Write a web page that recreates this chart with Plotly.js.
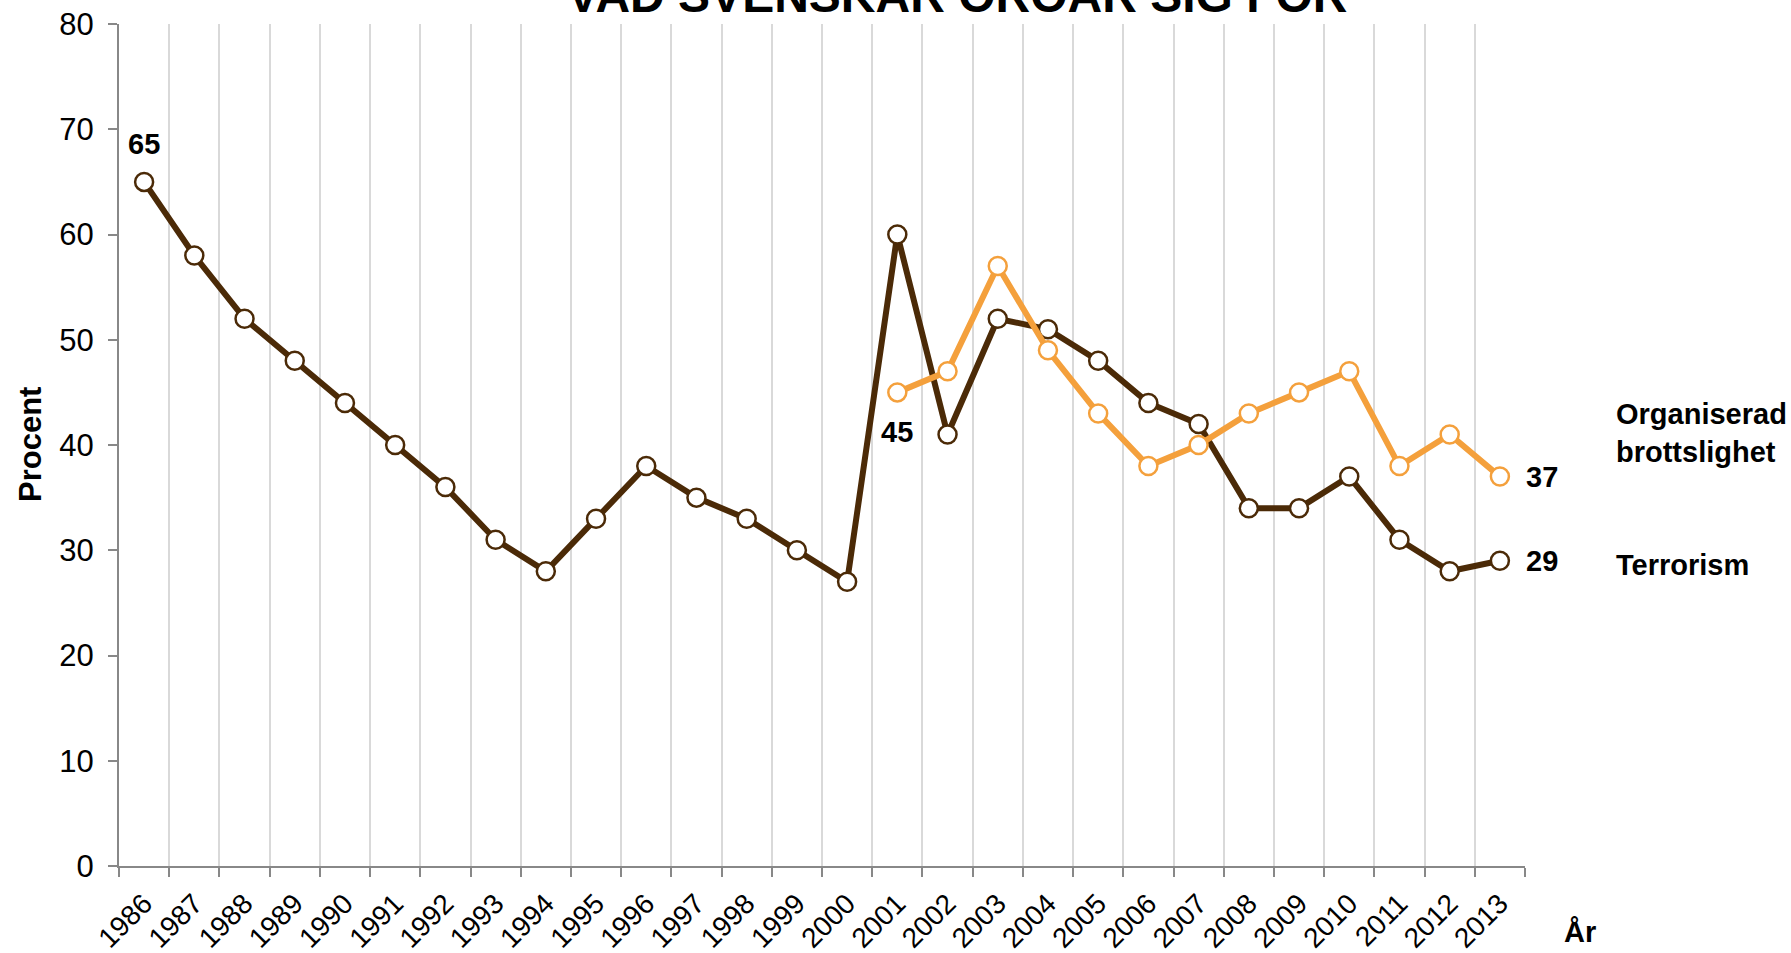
<!DOCTYPE html>
<html>
<head>
<meta charset="utf-8">
<script src="https://cdn.plot.ly/plotly-3.0.1.min.js"></script>
<style>html,body{margin:0;padding:0;background:#fff;}#chart{width:1791px;height:953px;}</style>
</head>
<body>
<div id="chart"></div>
<script>
const years = ["1986","1987","1988","1989","1990","1991","1992","1993","1994","1995","1996","1997","1998","1999","2000","2001","2002","2003","2004","2005","2006","2007","2008","2009","2010","2011","2012","2013"];
const terrorism = [65,58,52,48,44,40,36,31,28,33,38,35,33,30,27,60,41,52,51,48,44,42,34,34,37,31,28,29];
const orgYears = ["2001","2002","2003","2004","2005","2006","2007","2008","2009","2010","2011","2012","2013"];
const organiserad = [45,47,57,49,43,38,40,43,45,47,38,41,37];
const titleText = "VAD SVENSKAR OROAR SIG FÖR";
const seriesNames = ["Terrorism", "Organiserad<br>brottslighet"];

const BROWN = "#4b2a07";
const ORANGE = "#f4a03c";
const FONT = "Liberation Sans, Arial, sans-serif";

// plot area in pixels
const L = 119, R = 1525, T = 24, B = 866;
const W = 1791, H = 953;
const px = x => (x - L) / (R - L);
const py = y => (B - y) / (B - T);
const idx = y => years.indexOf(y);

const traces = [
  {
    x: years, y: terrorism, type: "scatter", mode: "lines+markers",
    line: {color: BROWN, width: 6},
    marker: {size: 18, color: "#ffffff", line: {color: BROWN, width: 2.5}},
    cliponaxis: false, hoverinfo: "x+y"
  },
  {
    x: orgYears, y: organiserad, type: "scatter", mode: "lines+markers",
    line: {color: ORANGE, width: 6},
    marker: {size: 18, color: "#ffffff", line: {color: ORANGE, width: 2.5}},
    cliponaxis: false, hoverinfo: "x+y"
  }
];

const boldFont = {family: FONT, size: 29, color: "#000"};
const lastT = terrorism.length - 1, lastO = organiserad.length - 1;
const annotations = [
  {text: "<b>" + titleText + "</b>", xref: "paper", yref: "paper", x: px(957), y: py(-5),
   xanchor: "center", yanchor: "middle", showarrow: false, font: {family: FONT, size: 48, color: "#000"}},
  {text: "<b>Procent</b>", xref: "paper", yref: "paper", x: px(30), y: py(445), textangle: -90,
   xanchor: "center", yanchor: "middle", showarrow: false, font: {family: FONT, size: 31, color: "#000"}},
  {text: "<b>År</b>", xref: "paper", yref: "paper", x: px(1580), y: py(932),
   xanchor: "center", yanchor: "middle", showarrow: false, font: boldFont},
  {text: "<b>" + seriesNames[1] + "</b>", xref: "paper", yref: "paper", x: px(1614), y: py(433),
   xanchor: "left", yanchor: "middle", align: "left", showarrow: false, font: boldFont},
  {text: "<b>" + seriesNames[0] + "</b>", xref: "paper", yref: "paper", x: px(1614), y: py(565),
   xanchor: "left", yanchor: "middle", align: "left", showarrow: false, font: boldFont},
  // data labels
  {text: "<b>" + terrorism[0] + "</b>", xref: "x", yref: "y", x: idx(years[0]), y: terrorism[0],
   yshift: 38, showarrow: false, font: boldFont},
  {text: "<b>" + organiserad[0] + "</b>", xref: "x", yref: "y", x: idx(orgYears[0]), y: organiserad[0],
   yshift: -40, showarrow: false, font: boldFont},
  {text: "<b>" + organiserad[lastO] + "</b>", xref: "x", yref: "y", x: idx(orgYears[lastO]), y: organiserad[lastO],
   xanchor: "left", xshift: 24, showarrow: false, font: boldFont},
  {text: "<b>" + terrorism[lastT] + "</b>", xref: "x", yref: "y", x: idx(years[lastT]), y: terrorism[lastT],
   xanchor: "left", xshift: 24, showarrow: false, font: boldFont}
];

const layout = {
  width: W, height: H,
  margin: {l: L, r: W - R, t: T, b: H - B, pad: 0},
  paper_bgcolor: "#fff", plot_bgcolor: "#fff",
  showlegend: false,
  font: {family: FONT, color: "#000"},
  xaxis: {
    type: "category", categoryorder: "array", categoryarray: years,
    range: [-0.5, years.length - 0.5],
    tickson: "boundaries",
    showgrid: true, gridcolor: "#d9d9d9", gridwidth: 2,
    showline: true, linecolor: "#888888", linewidth: 2,
    ticks: "outside", ticklen: 9, tickwidth: 2, tickcolor: "#888888",
    tickangle: -45, tickfont: {family: FONT, size: 28, color: "#000"},
    ticklabelstandoff: 8,
    zeroline: false, fixedrange: true
  },
  yaxis: {
    range: [0, 80], tick0: 0, dtick: 10,
    showgrid: false, zeroline: false,
    showline: true, linecolor: "#888888", linewidth: 2,
    ticks: "outside", ticklen: 9, tickwidth: 2, tickcolor: "#888888",
    ticklabelstandoff: 8,
    tickfont: {family: FONT, size: 31, color: "#000"},
    fixedrange: true
  },
  annotations: annotations
};

Plotly.newPlot("chart", traces, layout, {displayModeBar: false, staticPlot: true});
</script>
</body>
</html>
